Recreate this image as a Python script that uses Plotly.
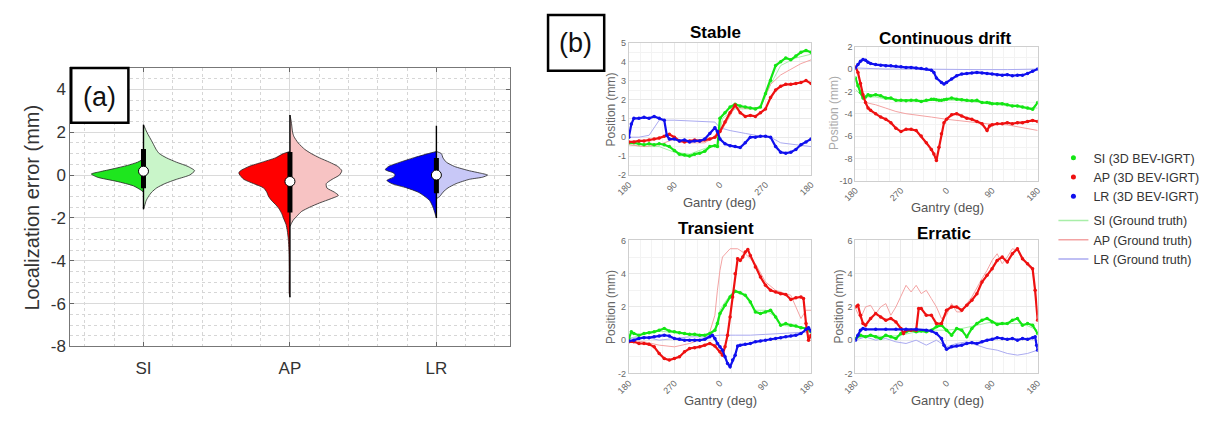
import plotly.graph_objects as go

# page body has an 8px margin: the figure is sized to fit the window
OFF = 8
W, H = 1219 - OFF, 421 - OFF

# ---------------- Panel (a): split violins ----------------
categories = ["SI", "AP", "LR"]
cat_pos = [1, 2, 3]
a_ytickvals = [-8, -6, -4, -2, 0, 2, 4]
a_yticktext = ["-8", "-6", "-4", "-2", "0", "2", "4"]

# left (dark) half: y levels and half-widths (data units)
SI_left_y = [0.75, 0.6, 0.45, 0.3, 0.15, 0.05, -0.1, -0.3, -0.5, -0.7, -0.8]
SI_left_w = [0.0, 0.04, 0.11, 0.20, 0.30, 0.356, 0.315, 0.18, 0.07, 0.018, 0.0]
SI_right_y = [2.35, 2.0, 1.5, 1.2, 1.0, 0.8, 0.6, 0.4, 0.2, 0.0, -0.2, -0.4, -0.6, -0.8, -1.0, -1.2, -1.4, -1.6]
SI_right_w = [0.0, 0.023, 0.063, 0.086, 0.108, 0.158, 0.225, 0.304, 0.349, 0.315, 0.225, 0.146, 0.09, 0.056, 0.034, 0.018, 0.009, 0.0]

AP_left_y = [1.1, 1.0, 0.8, 0.6, 0.4, 0.2, 0.1, 0.0, -0.2, -0.4, -0.6, -0.8, -1.0, -1.2, -1.4, -1.6, -1.8, -2.0, -2.3, -2.6, -3.0, -3.5, -4.5, -5.5, -5.7]
AP_left_w = [0.0, 0.045, 0.10, 0.19, 0.28, 0.338, 0.349, 0.342, 0.315, 0.248, 0.18, 0.158, 0.146, 0.124, 0.095, 0.072, 0.056, 0.045, 0.027, 0.018, 0.011, 0.007, 0.005, 0.005, 0.0]
AP_right_y = [2.8, 2.5, 2.0, 1.8, 1.5, 1.2, 1.0, 0.8, 0.6, 0.4, 0.2, 0.0, -0.2, -0.4, -0.6, -0.8, -0.95, -1.1, -1.3, -1.5, -1.7, -1.9, -2.1, -2.3, -2.4]
AP_right_w = [0.0, 0.009, 0.018, 0.027, 0.056, 0.101, 0.146, 0.203, 0.27, 0.327, 0.354, 0.338, 0.288, 0.248, 0.252, 0.304, 0.331, 0.282, 0.203, 0.135, 0.079, 0.05, 0.023, 0.007, 0.0]

LR_left_y = [1.1, 1.0, 0.8, 0.6, 0.4, 0.25, 0.1, 0.0, -0.1, -0.25, -0.4, -0.6, -0.8, -1.0, -1.2, -1.5, -1.8, -2.0]
LR_left_w = [0.0, 0.056, 0.158, 0.248, 0.327, 0.349, 0.293, 0.282, 0.293, 0.338, 0.304, 0.203, 0.124, 0.079, 0.045, 0.023, 0.009, 0.0]
LR_right_y = [1.1, 1.0, 0.8, 0.6, 0.4, 0.2, 0.1, 0.0, -0.1, -0.2, -0.4, -0.6, -0.8, -1.0, -1.1]
LR_right_w = [0.0, 0.034, 0.045, 0.068, 0.124, 0.225, 0.293, 0.349, 0.315, 0.225, 0.135, 0.079, 0.045, 0.023, 0.0]

# box statistics: whisker low, q1, median, q3, whisker high
SI_stats = [-1.6, -0.62, 0.18, 1.22, 2.35]
AP_stats = [-5.7, -1.75, -0.3, 1.08, 2.8]
LR_stats = [-2.0, -0.85, 0.0, 0.8, 2.3]

dark_colors = ["#1ee61e", "#ff0000", "#0000ff"]
light_colors = ["#c9f5c9", "#f7c3c3", "#c8c8f7"]

# ---------------- Panel (b): gantry traces ----------------
gantry_ticks = [0, 90, 180, 270, 360]
stable_ticktext = ["180", "90", "0", "270", "180"]
other_ticktext = ["180", "270", "0", "90", "180"]
st_ytickvals = [-2, -1, 0, 1, 2, 3, 4, 5]
st_yticktext = ["-2", "-1", "0", "1", "2", "3", "4", "5"]
cd_ytickvals = [-10, -8, -6, -4, -2, 0, 2]
cd_yticktext = ["-10", "-8", "-6", "-4", "-2", "0", "2"]
tr_ytickvals = [-2, 0, 2, 4, 6]
tr_yticktext = ["-2", "0", "2", "4", "6"]

# Stable
st_x = [0, 10, 20, 30, 40, 50, 60, 70, 80, 90, 100, 110, 120, 130, 140, 150, 160, 170, 175, 180, 190, 200, 210, 220, 230, 240, 250, 260, 270, 280, 290, 300, 310, 320, 330, 340, 350, 360]
st_si = [-0.3, -0.3, -0.35, -0.4, -0.35, -0.4, -0.35, -0.4, -0.5, -0.7, -0.9, -0.95, -1.0, -0.9, -0.85, -0.75, -0.5, -0.45, -0.5, 1.0, 1.3, 1.6, 1.75, 1.65, 1.6, 1.55, 1.5, 1.6, 2.3, 3.0, 3.8, 4.0, 4.2, 4.1, 4.3, 4.5, 4.6, 4.5]
st_ap = [-0.25, -0.25, -0.2, -0.2, -0.15, -0.1, -0.05, 0.05, 0.15, 0.0, -0.2, -0.25, -0.2, -0.15, -0.2, -0.15, -0.1, 0.0, 0.15, 0.3, 0.8, 1.3, 1.7, 1.3, 1.1, 1.15, 1.1, 1.3, 1.5, 2.1, 2.5, 2.7, 2.8, 2.8, 2.85, 2.9, 3.0, 2.85]
st_lr_x = [0, 5, 10, 20, 30, 40, 50, 60, 70, 75, 80, 90, 100, 110, 120, 130, 140, 150, 160, 170, 175, 180, 190, 200, 210, 220, 230, 240, 250, 260, 270, 280, 290, 300, 310, 320, 330, 340, 350, 360]
st_lr = [0.0, 0.7, 1.0, 1.0, 1.05, 1.0, 1.1, 1.0, 0.9, 0.1, -0.1, -0.1, -0.2, -0.15, -0.25, -0.2, -0.2, -0.1, 0.2, 0.5, 0.3, -0.1, -0.35, -0.45, -0.5, -0.55, -0.3, 0.0, 0.0, 0.05, 0.05, 0.0, -0.5, -0.8, -0.85, -0.8, -0.65, -0.4, -0.25, -0.1]
st_gt_si_x = [0, 30, 60, 90, 120, 150, 175, 185, 210, 240, 260, 280, 300, 330, 360]
st_gt_si = [-0.4, -0.5, -0.5, -0.8, -0.9, -0.6, -0.4, 1.0, 1.5, 1.5, 1.6, 2.8, 3.8, 4.2, 4.4]
st_gt_ap_x = [0, 30, 60, 90, 120, 150, 180, 210, 240, 260, 280, 300, 320, 340, 360]
st_gt_ap = [-0.4, -0.5, -0.4, -0.1, -0.3, -0.3, 0.2, 1.6, 1.5, 1.6, 2.8, 3.3, 3.6, 3.9, 4.1]
st_gt_lr_x = [0, 20, 40, 60, 90, 120, 150, 170, 180, 200, 230, 260, 280, 300, 330, 360]
st_gt_lr = [0.0, 0.0, 0.1, 0.9, 0.9, 0.85, 0.8, 0.8, 0.5, 0.35, 0.2, 0.05, 0.0, -0.3, -0.4, -0.5]

# Continuous drift
cd_x = [0, 5, 10, 15, 20, 25, 30, 40, 50, 60, 70, 80, 90, 100, 110, 120, 130, 140, 150, 155, 160, 165, 170, 175, 180, 190, 200, 210, 220, 230, 240, 250, 260, 265, 270, 280, 290, 300, 310, 320, 330, 340, 350, 360]
cd_si = [-0.8, -1.5, -2.1, -2.6, -2.5, -2.3, -2.4, -2.3, -2.4, -2.6, -2.6, -2.8, -2.8, -2.85, -2.8, -2.8, -2.9, -2.8, -2.7, -2.7, -2.75, -2.8, -2.8, -2.75, -2.7, -2.6, -2.7, -2.75, -2.8, -2.85, -2.8, -3.0, -3.0, -3.05, -3.1, -3.1, -3.1, -3.2, -3.3, -3.3, -3.4, -3.5, -3.6, -3.0]
cd_ap = [0.2, -0.3, -1.3, -2.3, -3.0, -3.5, -3.7, -4.0, -4.3, -4.5, -4.8, -5.3, -5.6, -5.4, -5.4, -5.5, -6.0, -6.6, -7.2, -7.6, -8.2, -7.0, -5.8, -4.8, -4.5, -4.1, -4.0, -4.2, -4.4, -4.5, -4.7, -4.9, -5.5, -5.1, -5.0, -4.9, -4.9, -4.8, -4.9, -4.8, -4.8, -4.7, -4.6, -4.7]
cd_lr_x = [0, 5, 10, 15, 20, 25, 30, 40, 50, 60, 70, 80, 90, 100, 110, 120, 130, 140, 150, 155, 160, 170, 175, 180, 190, 200, 210, 220, 230, 240, 250, 260, 270, 280, 290, 300, 310, 320, 330, 340, 350, 360]
cd_lr = [0.1, 0.4, 0.7, 0.85, 0.8, 0.6, 0.5, 0.4, 0.35, 0.3, 0.3, 0.25, 0.2, 0.15, 0.15, 0.1, 0.05, 0.0, -0.1, -0.3, -0.8, -1.2, -1.35, -1.2, -0.9, -0.6, -0.45, -0.4, -0.35, -0.3, -0.35, -0.4, -0.45, -0.5, -0.55, -0.5, -0.6, -0.55, -0.55, -0.4, -0.2, 0.0]
cd_gt_si_x = [0, 10, 20, 40, 60, 100, 150, 200, 250, 300, 360]
cd_gt_si = [-1.8, -2.3, -2.5, -2.5, -2.7, -2.8, -2.8, -2.8, -3.0, -3.3, -3.5]
cd_gt_ap_x = [0, 10, 20, 40, 60, 80, 100, 120, 150, 180, 200, 230, 260, 300, 340, 360]
cd_gt_ap = [-1.0, -2.2, -3.0, -3.2, -3.5, -3.8, -4.0, -4.1, -4.3, -4.5, -4.6, -4.7, -4.9, -5.0, -5.3, -5.5]
cd_gt_lr_x = [0, 30, 60, 120, 180, 240, 300, 360]
cd_gt_lr = [0.1, 0.05, 0.0, 0.0, -0.05, -0.05, -0.05, 0.0]

# Transient
tr_x = [0, 5, 10, 20, 30, 40, 50, 60, 70, 80, 90, 100, 110, 120, 130, 140, 150, 160, 170, 175, 180, 190, 200, 210, 220, 230, 240, 250, 260, 270, 280, 290, 300, 310, 320, 330, 340, 350, 360]
tr_si = [0.1, 0.5, 0.4, 0.3, 0.4, 0.45, 0.5, 0.6, 0.7, 0.55, 0.5, 0.45, 0.4, 0.35, 0.35, 0.3, 0.3, 0.4, 0.6, 1.0, 1.6, 2.1, 2.6, 2.95, 2.85, 2.7, 2.3, 1.7, 1.6, 1.7, 1.8, 1.4, 0.9, 1.0, 0.9, 0.85, 0.75, 0.7, 0.5]
tr_ap_x = [0, 10, 20, 30, 40, 50, 60, 70, 80, 90, 100, 110, 120, 130, 140, 150, 160, 170, 180, 185, 190, 195, 200, 205, 210, 215, 220, 225, 230, 235, 240, 250, 260, 270, 280, 290, 300, 310, 320, 330, 340, 345, 350, 355, 360]
tr_ap = [-0.1, -0.1, -0.2, -0.2, -0.25, -0.4, -0.8, -1.1, -1.2, -1.1, -1.0, -0.7, -0.5, -0.45, -0.4, -0.3, -0.2, -0.35, -0.7, -0.9, -0.4, 0.3, 1.4, 2.6, 4.0, 4.9, 4.8, 5.0, 5.3, 5.45, 5.1, 4.4, 3.8, 3.3, 3.0, 2.9, 2.8, 2.75, 2.45, 2.55, 2.6, 2.5, 1.0, 0.0, 0.3]
tr_lr_x = [0, 10, 20, 30, 40, 50, 60, 70, 80, 90, 100, 110, 120, 130, 140, 150, 160, 165, 170, 175, 180, 185, 190, 195, 200, 205, 210, 215, 220, 230, 240, 250, 260, 270, 280, 290, 300, 310, 320, 330, 340, 350, 355, 360]
tr_lr = [-0.05, 0.0, 0.1, 0.15, 0.15, 0.2, 0.25, 0.3, 0.25, 0.1, 0.05, 0.0, 0.0, 0.0, 0.0, 0.05, 0.2, 0.3, 0.1, -0.2, -0.4, -0.6, -1.0, -1.4, -1.6, -1.2, -0.9, -0.35, -0.3, -0.25, -0.2, -0.1, -0.05, 0.0, 0.05, 0.1, 0.15, 0.2, 0.25, 0.3, 0.4, 0.65, 0.75, 0.55]
tr_gt_si_x = [0, 30, 60, 90, 120, 150, 170, 180, 190, 200, 210, 230, 250, 270, 290, 300, 330, 360]
tr_gt_si = [0.1, 0.35, 0.55, 0.45, 0.35, 0.3, 0.6, 1.8, 2.3, 2.7, 2.9, 2.7, 1.8, 1.8, 1.4, 0.9, 0.8, 0.6]
tr_gt_ap_x = [0, 30, 60, 90, 120, 150, 160, 170, 175, 180, 185, 200, 215, 230, 250, 270, 290, 300, 320, 330, 340, 350, 360]
tr_gt_ap = [0.0, -0.1, -0.3, -0.4, -0.2, 0.1, 0.5, 1.5, 3.0, 4.2, 5.0, 5.5, 5.5, 5.2, 4.6, 3.5, 3.0, 2.9, 2.7, 2.0, 1.3, 1.8, 1.8]
tr_gt_lr_x = [0, 30, 60, 90, 120, 150, 180, 210, 240, 270, 300, 330, 360]
tr_gt_lr = [0.1, 0.2, 0.0, 0.1, 0.2, 0.2, 0.3, 0.3, 0.3, 0.35, 0.4, 0.45, 0.5]

# Erratic
er_x = [0, 10, 20, 30, 40, 50, 60, 70, 80, 90, 100, 110, 120, 130, 140, 150, 160, 170, 180, 190, 200, 210, 220, 230, 240, 250, 260, 270, 280, 290, 300, 310, 320, 330, 340, 350, 360]
er_si = [0.1, 0.3, 0.2, 0.3, 0.2, 0.1, 0.3, 0.2, 0.1, 0.4, 0.5, 0.6, 0.5, 0.55, 0.5, 0.6, 0.8, 0.9, 0.6, 0.3, 0.7, 0.6, 0.2, 0.7, 1.0, 1.2, 1.3, 1.1, 0.95, 1.0, 1.0, 1.2, 1.3, 0.9, 1.0, 0.9, 0.4]
er_ap_x = [0, 5, 10, 15, 20, 30, 40, 50, 60, 70, 80, 90, 95, 100, 110, 120, 125, 130, 140, 150, 160, 170, 180, 190, 200, 210, 220, 230, 240, 250, 260, 270, 280, 290, 300, 310, 320, 330, 340, 350, 355, 360]
er_ap = [2.0, 2.1, 1.5, 1.0, 0.9, 1.3, 1.6, 1.4, 1.2, 1.3, 1.1, 0.7, 0.4, 0.6, 0.6, 0.6, 1.9, 1.9, 1.5, 1.5, 1.0, 1.0, 1.8, 2.0, 2.0, 1.8, 2.1, 2.4, 2.8, 3.5, 3.9, 4.3, 4.8, 5.0, 4.7, 5.2, 5.5, 4.9, 4.6, 4.3, 3.0, 1.2]
er_lr_x = [0, 5, 10, 15, 20, 40, 60, 80, 100, 120, 140, 150, 160, 170, 175, 180, 190, 200, 210, 220, 230, 240, 250, 260, 270, 280, 290, 300, 310, 320, 330, 340, 350, 355, 358, 360]
er_lr = [0.0, 0.3, 0.6, 0.7, 0.65, 0.65, 0.65, 0.65, 0.65, 0.65, 0.6, 0.55, 0.4, 0.1, -0.3, -0.55, -0.4, -0.35, -0.3, -0.2, -0.15, -0.2, -0.1, 0.0, 0.05, 0.15, 0.1, 0.05, 0.1, 0.0, 0.1, 0.05, 0.15, 0.2, -0.3, -0.6]
er_gt_si_x = [0, 30, 60, 90, 120, 150, 180, 210, 240, 270, 300, 330, 360]
er_gt_si = [0.1, 0.3, 0.2, 0.3, 0.5, 0.6, 0.6, 0.7, 0.9, 1.1, 1.0, 1.0, 0.6]
er_gt_ap_x = [0, 10, 20, 30, 40, 50, 60, 70, 80, 90, 100, 110, 120, 130, 140, 150, 160, 170, 180, 190, 200, 210, 220, 230, 240, 250, 260, 270, 280, 290, 300, 310, 320, 330, 340, 350, 360]
er_gt_ap = [1.9, 1.3, 2.0, 2.1, 1.6, 2.0, 2.2, 1.5, 2.0, 2.6, 3.3, 2.9, 3.3, 2.8, 3.0, 2.5, 2.0, 1.3, 1.5, 2.2, 1.7, 1.7, 2.2, 2.6, 3.2, 3.7, 4.2, 4.8, 5.2, 4.6, 5.0, 5.5, 5.4, 5.0, 4.5, 4.2, 1.5]
er_gt_lr_x = [0, 20, 40, 60, 80, 100, 120, 140, 160, 180, 200, 220, 240, 260, 280, 300, 320, 340, 360]
er_gt_lr = [0.0, 0.2, 0.0, 0.1, -0.1, -0.2, 0.0, -0.3, 0.0, -0.4, -0.2, -0.1, -0.3, -0.5, -0.6, -0.8, -0.9, -0.8, -0.6]

meas_colors = {"SI": "#14e614", "AP": "#ee1111", "LR": "#1010ee"}
gt_colors = {"SI": "#a8eea8", "AP": "#f3a3a3", "LR": "#aaaaf0"}

legend_labels_meas = ["SI (3D BEV-IGRT)", "AP (3D BEV-IGRT)", "LR (3D BEV-IGRT)"]
legend_labels_gt = ["SI (Ground truth)", "AP (Ground truth)", "LR (Ground truth)"]


def px_x(p):
    return (p - OFF) / W


def px_y(p):
    return 1 - (p - OFF) / H


fig = go.Figure()

# ---- violins ----
violins = [
    (SI_left_y, SI_left_w, SI_right_y, SI_right_w),
    (AP_left_y, AP_left_w, AP_right_y, AP_right_w),
    (LR_left_y, LR_left_w, LR_right_y, LR_right_w),
]
for i, (ly, lw, ry, rw) in enumerate(violins):
    c = cat_pos[i]
    fig.add_trace(go.Scatter(x=[c - w for w in lw], y=ly, mode="lines", fill="toself",
                             fillcolor=dark_colors[i], line=dict(color="#222", width=0.8, shape="spline", smoothing=0.6),
                             showlegend=False, hoverinfo="skip", xaxis="x", yaxis="y"))
    fig.add_trace(go.Scatter(x=[c + w for w in rw], y=ry, mode="lines", fill="toself",
                             fillcolor=light_colors[i], line=dict(color="#222", width=0.8, shape="spline", smoothing=0.6),
                             showlegend=False, hoverinfo="skip", xaxis="x", yaxis="y"))
for i, st in enumerate([SI_stats, AP_stats, LR_stats]):
    c = cat_pos[i]
    fig.add_trace(go.Scatter(x=[c, c], y=[st[0], st[4]], mode="lines", line=dict(color="black", width=1.4),
                             showlegend=False, hoverinfo="skip", xaxis="x", yaxis="y"))
    fig.add_trace(go.Scatter(x=[c, c], y=[st[1], st[3]], mode="lines", line=dict(color="black", width=5),
                             showlegend=False, hoverinfo="skip", xaxis="x", yaxis="y"))
    fig.add_trace(go.Scatter(x=[c], y=[st[2]], mode="markers",
                             marker=dict(color="white", size=10, line=dict(color="black", width=1)),
                             showlegend=False, hoverinfo="skip", xaxis="x", yaxis="y"))

# ---- gantry panels ----
panels = [
    ("x2", "y2", st_x, st_si, st_x, st_ap, st_lr_x, st_lr, st_gt_si_x, st_gt_si, st_gt_ap_x, st_gt_ap, st_gt_lr_x, st_gt_lr),
    ("x3", "y3", cd_x, cd_si, cd_x, cd_ap, cd_lr_x, cd_lr, cd_gt_si_x, cd_gt_si, cd_gt_ap_x, cd_gt_ap, cd_gt_lr_x, cd_gt_lr),
    ("x4", "y4", tr_x, tr_si, tr_ap_x, tr_ap, tr_lr_x, tr_lr, tr_gt_si_x, tr_gt_si, tr_gt_ap_x, tr_gt_ap, tr_gt_lr_x, tr_gt_lr),
    ("x5", "y5", er_x, er_si, er_ap_x, er_ap, er_lr_x, er_lr, er_gt_si_x, er_gt_si, er_gt_ap_x, er_gt_ap, er_gt_lr_x, er_gt_lr),
]
for p in panels:
    xa, ya = p[0], p[1]
    meas = [("SI", p[2], p[3]), ("AP", p[4], p[5]), ("LR", p[6], p[7])]
    gts = [("SI", p[8], p[9]), ("AP", p[10], p[11]), ("LR", p[12], p[13])]
    for key, gx, gy in gts:
        fig.add_trace(go.Scatter(x=gx, y=gy, mode="lines", line=dict(color=gt_colors[key], width=1),
                                 showlegend=False, hoverinfo="skip", xaxis=xa, yaxis=ya))
    for key, mx, my in meas:
        fig.add_trace(go.Scatter(x=mx, y=my, mode="lines+markers",
                                 line=dict(color=meas_colors[key], width=2.2),
                                 marker=dict(color=meas_colors[key], size=3.5),
                                 showlegend=False, hoverinfo="skip", xaxis=xa, yaxis=ya))

# ---- legend entries ----
for key, lab in zip(["SI", "AP", "LR"], legend_labels_meas):
    fig.add_trace(go.Scatter(x=[None], y=[None], mode="markers", name=lab, legendgroup="meas",
                             marker=dict(color=meas_colors[key], size=5), xaxis="x2", yaxis="y2"))
for key, lab in zip(["SI", "AP", "LR"], legend_labels_gt):
    fig.add_trace(go.Scatter(x=[None], y=[None], mode="lines", name=lab, legendgroup="gt",
                             line=dict(color=gt_colors[key], width=1.5), xaxis="x2", yaxis="y2"))

# ---- axes ----
grid_a = dict(showgrid=True, gridcolor="#dadada", gridwidth=1, zeroline=False, showline=True,
              linecolor="#777", linewidth=1, mirror="ticks", ticks="inside", ticklen=4, tickcolor="#666")
fig.update_layout(
    xaxis=dict(domain=[px_x(58), px_x(504)], range=[0.5, 3.5], tickmode="array", tickvals=cat_pos,
               ticktext=categories, tickfont=dict(size=17, color="#333"), ticklabelstandoff=6,
               minor=dict(dtick=0.2, tick0=0, showgrid=True, gridcolor="#d6d6d6", griddash="dot", ticks=""),
               anchor="y", **grid_a),
    yaxis=dict(domain=[px_y(354), px_y(65)], range=[-8, 5], tickmode="array", tickvals=a_ytickvals,
               ticktext=a_yticktext, tickfont=dict(size=17, color="#333"),
               minor=dict(dtick=0.5, showgrid=True, gridcolor="#d6d6d6", griddash="dot", ticks=""),
               anchor="x", **grid_a),
)

grid_b = dict(showgrid=True, gridcolor="#e9e9e9", gridwidth=1, zeroline=False, showline=True,
              linecolor="#cfcfcf", linewidth=1, mirror=True, ticks="", tickfont=dict(size=9, color="#666"))
bx_left = [px_x(625), px_x(810)]
bx_right = [px_x(855), px_x(1040)]
xminor = dict(dtick=22.5, showgrid=True, gridcolor="#f3f3f3")
fig.update_layout(
    xaxis2=dict(domain=bx_left, range=[0, 360], tickmode="array", tickvals=gantry_ticks, ticktext=stable_ticktext,
                tickangle=-45, anchor="y2", minor=xminor, **grid_b),
    yaxis2=dict(domain=[px_y(176), px_y(39)], range=[-2, 5], tickmode="array", tickvals=st_ytickvals,
                ticktext=st_yticktext, anchor="x2", minor=dict(dtick=0.5, showgrid=True, gridcolor="#f3f3f3"), **grid_b),
    xaxis3=dict(domain=bx_right, range=[0, 360], tickmode="array", tickvals=gantry_ticks, ticktext=other_ticktext,
                tickangle=-45, anchor="y3", minor=xminor, **grid_b),
    yaxis3=dict(domain=[px_y(182), px_y(43)], range=[-10, 2], tickmode="array", tickvals=cd_ytickvals,
                ticktext=cd_yticktext, anchor="x3", minor=dict(dtick=1, showgrid=True, gridcolor="#f3f3f3"), **grid_b),
    xaxis4=dict(domain=bx_left, range=[0, 360], tickmode="array", tickvals=gantry_ticks, ticktext=other_ticktext,
                tickangle=-45, anchor="y4", minor=xminor, **grid_b),
    yaxis4=dict(domain=[px_y(382), px_y(244)], range=[-2, 6], tickmode="array", tickvals=tr_ytickvals,
                ticktext=tr_yticktext, anchor="x4", minor=dict(dtick=1, showgrid=True, gridcolor="#f3f3f3"), **grid_b),
    xaxis5=dict(domain=bx_right, range=[0, 360], tickmode="array", tickvals=gantry_ticks, ticktext=other_ticktext,
                tickangle=-45, anchor="y5", minor=xminor, **grid_b),
    yaxis5=dict(domain=[px_y(382), px_y(244)], range=[-2, 6], tickmode="array", tickvals=tr_ytickvals,
                ticktext=tr_yticktext, anchor="x5", minor=dict(dtick=1, showgrid=True, gridcolor="#f3f3f3"), **grid_b),
)

# ---- annotations ----
ann = []


def add_text(text, x, y, size, color="#333", bold=False, angle=0):
    ann.append(dict(text=("<b>%s</b>" % text) if bold else text, x=px_x(x), y=px_y(y), xref="paper", yref="paper",
                    showarrow=False, xanchor="center", yanchor="middle", textangle=angle,
                    font=dict(size=size, color=color)))


add_text("Localization error (mm)", 19, 210, 20, "#333", angle=-90)
add_text("(a)", 88, 95, 27, "#111")
add_text("(b)", 571, 39, 27, "#111")
add_text("Stable", 713, 28, 17, "#000", bold=True)
add_text("Continuous drift", 946, 34, 17, "#000", bold=True)
add_text("Transient", 713, 232, 17, "#000", bold=True)
add_text("Erratic", 945, 237, 17, "#000", bold=True)
add_text("Position (mm)", 607, 108, 12, "#666", angle=-90)
add_text("Position (mm)", 834, 112, 12, "#aaa", angle=-90)
add_text("Position (mm)", 607, 313, 12, "#666", angle=-90)
add_text("Position (mm)", 838, 313, 12, "#666", angle=-90)
add_text("Gantry (deg)", 717, 205, 13, "#555")
add_text("Gantry (deg)", 948, 210, 13, "#555")
add_text("Gantry (deg)", 718, 410, 13, "#555")
add_text("Gantry (deg)", 948, 410, 13, "#555")

shapes = [
    dict(type="rect", xref="paper", yref="paper", x0=px_x(59), x1=px_x(117), y0=px_y(122), y1=px_y(65),
         line=dict(color="black", width=2.5), fillcolor="white", layer="above"),
    dict(type="rect", xref="paper", yref="paper", x0=px_x(543), x1=px_x(600), y0=px_y(68), y1=px_y(10),
         line=dict(color="black", width=2.5), fillcolor="white", layer="above"),
]

fig.update_layout(
    width=W, height=H, margin=dict(l=0, r=0, t=0, b=0),
    paper_bgcolor="white", plot_bgcolor="white",
    font=dict(family="Liberation Sans, Arial, sans-serif", color="#333"),
    annotations=ann, shapes=shapes,
    legend=dict(x=px_x(1056), y=px_y(143), xanchor="left", yanchor="top", font=dict(size=12.5, color="#333"),
                bgcolor="rgba(0,0,0,0)", traceorder="grouped", tracegroupgap=5, itemwidth=30),
    showlegend=True,
)

fig.write_html("out.html")
